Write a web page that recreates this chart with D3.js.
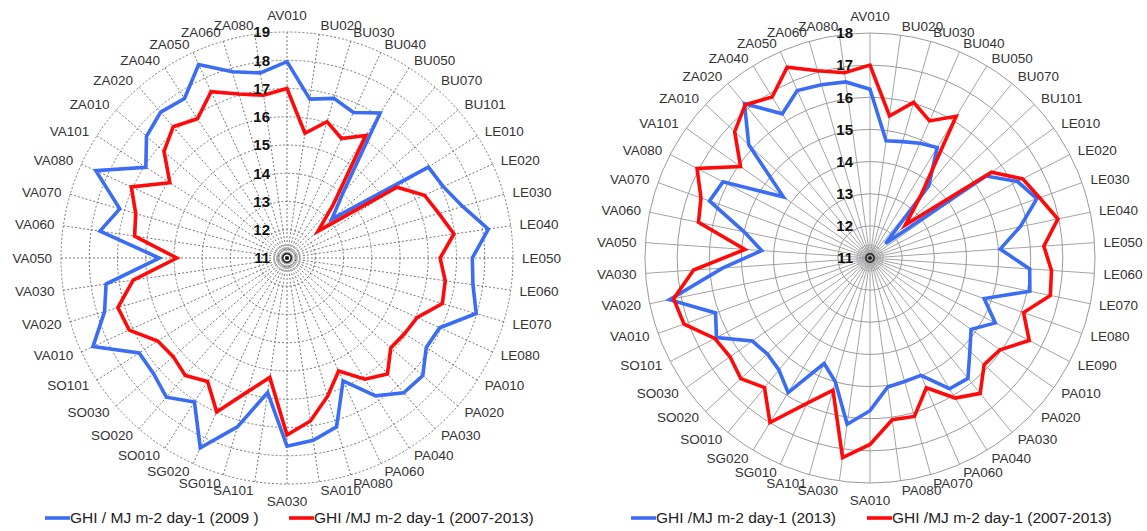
<!DOCTYPE html>
<html><head><meta charset="utf-8">
<script src="https://cdn.jsdelivr.net/npm/d3@7"></script>
<style>body{margin:0;background:#fff}svg{display:block}</style>
</head><body><svg id="c" width="1147" height="531"></svg>
<script>
const catsLeft = ["AV010","BU020","BU030","BU040","BU050","BU070","BU101","LE010","LE020","LE030","LE040","LE050","LE060","LE070","LE080","PA010","PA020","PA030","PA040","PA060","PA080","SA010","SA030","SA101","SG010","SG020","SO010","SO020","SO030","SO101","VA010","VA020","VA030","VA050","VA060","VA070","VA080","VA101","ZA010","ZA020","ZA040","ZA050","ZA060","ZA080"];
const ghi2009 = [17.95,16.68,16.89,16.66,17.10,14.00,13.10,16.95,17.08,17.48,18.20,17.56,17.65,17.98,16.94,16.86,17.36,17.31,16.80,15.78,17.23,17.52,17.66,15.81,17.23,18.39,17.06,17.52,17.25,17.22,18.55,17.73,17.47,15.52,17.69,17.17,18.44,16.94,17.58,17.83,17.71,18.53,17.87,17.62];
const ghiAvgLeft = [17.00,15.46,16.03,15.65,16.16,13.50,12.45,15.63,16.35,16.60,16.97,16.42,16.66,16.73,16.07,15.95,15.86,16.43,16.10,15.40,16.10,16.83,17.27,15.27,15.93,16.99,16.20,16.50,16.33,16.44,17.14,17.24,16.50,14.90,16.45,16.58,17.06,15.93,16.76,17.15,16.86,17.47,17.05,16.82];
const ticksLeft = [11,12,13,14,15,16,17,18,19];

const catsRight = ["AV010","BU020","BU030","BU040","BU050","BU070","BU101","LE010","LE020","LE030","LE040","LE050","LE060","LE070","LE080","LE090","PA010","PA020","PA030","PA040","PA060","PA070","PA080","SA010","SA030","SA101","SG010","SG020","SO010","SO020","SO030","SO101","VA010","VA020","VA030","VA050","VA060","VA070","VA080","VA101","ZA010","ZA020","ZA040","ZA050","ZA060","ZA080"];
const ghi2013 = [16.25,14.68,14.76,14.89,15.02,13.90,11.66,15.42,16.17,16.51,15.77,15.06,15.98,16.08,14.77,15.39,14.85,15.25,15.83,15.76,14.98,14.99,15.05,15.75,16.22,15.00,14.58,15.90,15.49,15.37,15.48,16.38,16.10,17.37,15.60,14.38,15.00,16.30,16.15,14.30,16.16,17.19,16.25,16.68,16.60,16.53];
const ghiAvgRight = [17.00,15.46,16.03,15.65,16.16,13.50,12.50,15.63,16.35,16.60,16.97,16.42,16.66,16.73,16.07,16.58,15.95,15.86,16.43,16.10,15.40,16.12,16.08,16.80,17.27,15.27,15.93,16.99,16.20,16.50,16.33,16.44,17.14,17.24,16.50,14.90,16.45,16.58,17.06,15.93,16.76,17.15,16.86,17.47,17.05,16.82];
const ticksRight = [11,12,13,14,15,16,17,18];

const legendLeft = ["GHI / MJ m-2 day-1 (2009 )", "GHI /MJ m-2 day-1 (2007-2013)"];
const legendRight = ["GHI /MJ m-2 day-1 (2013)", "GHI /MJ m-2 day-1 (2007-2013)"];

const BLUE = "#3a6cf4", RED = "#ff0a0a";
const FONT = "'Liberation Sans', Arial, sans-serif";
const svg = d3.select("#c");

function radar(cx, cy, R, cats, ticks, seriesList, dashed) {
  const g = svg.append("g").attr("transform", `translate(${cx},${cy})`);
  const n = cats.length;
  const r = d3.scaleLinear().domain([ticks[0], ticks[ticks.length-1]]).range([0, R]);
  const a = d3.scaleLinear().domain([0, n]).range([0, 2*Math.PI]);
  const gridColor = dashed ? "#777" : "#9a9a9a";
  const dash = dashed ? "2,2" : null;
  g.selectAll("line.spoke").data(cats).join("line")
    .attr("x1", 0).attr("y1", 0)
    .attr("x2", (d,i) => R*Math.sin(a(i))).attr("y2", (d,i) => -R*Math.cos(a(i)))
    .attr("stroke", gridColor).attr("stroke-width", dashed ? 1 : 0.9).attr("stroke-dasharray", dash);
  g.selectAll("circle.ring").data(ticks.slice(1)).join("circle")
    .attr("r", d => r(d)).attr("fill", "none")
    .attr("stroke", gridColor).attr("stroke-width", 1).attr("stroke-dasharray", dash);
  [13,10.5,8,6].forEach(rr => g.append("circle").attr("r", rr).attr("fill","none").attr("stroke","#aaa").attr("stroke-width",1));
  g.append("circle").attr("r", 4.2).attr("fill","none").attr("stroke","#222").attr("stroke-width",1.4);
  g.append("circle").attr("r", 1.8).attr("fill","#111");
  const line = d3.lineRadial().angle((d,i) => a(i)).radius(d => r(d)).curve(d3.curveLinearClosed);
  seriesList.forEach(s => {
    g.append("path").datum(s.values).attr("d", line)
      .attr("fill","none").attr("stroke", s.color).attr("stroke-width", 3.6).attr("stroke-linejoin","miter");
  });
  g.selectAll("text.tick").data(ticks).join("text")
    .attr("x", -17).attr("y", d => -r(d)).attr("dy", "0.35em")
    .attr("text-anchor", "end").attr("font-family", FONT).attr("font-weight", "bold")
    .attr("font-size", 15).attr("fill", "#111").text(d => d);
  const off = 9;
  g.selectAll("text.cat").data(cats).join("text")
    .each(function(d,i){
      const ang = a(i), s = Math.sin(ang), c = Math.cos(ang);
      let x = (R+off)*s, y = -(R+off)*c, anchor = "middle";
      if (s > 0.05) anchor = "start"; else if (s < -0.05) anchor = "end";
      else y += -c*8;
      d3.select(this).attr("x", x).attr("y", y).attr("dy","0.35em").attr("text-anchor", anchor);
    })
    .attr("font-family", FONT).attr("font-size", 13.5).attr("fill", "#333").text(d => d);
}

function legend(items) {
  items.forEach(it => {
    svg.append("line").attr("x1", it.x).attr("x2", it.x+25).attr("y1", 518).attr("y2", 518)
      .attr("stroke", it.color).attr("stroke-width", 3.6);
    svg.append("text").attr("x", it.x+25).attr("y", 518).attr("dy","0.35em")
      .attr("font-family", FONT).attr("font-size", 15.5).attr("fill", "#222").text(it.label);
  });
}

radar(287, 258, 226, catsLeft, ticksLeft,
  [{values: ghi2009, color: BLUE}, {values: ghiAvgLeft, color: RED}], true);
radar(870, 258, 225, catsRight, ticksRight,
  [{values: ghi2013, color: BLUE}, {values: ghiAvgRight, color: RED}], false);

legend([
  {x: 45, color: BLUE, label: legendLeft[0]},
  {x: 289, color: RED, label: legendLeft[1]},
  {x: 631, color: BLUE, label: legendRight[0]},
  {x: 867, color: RED, label: legendRight[1]}
]);
</script>
</body></html>
